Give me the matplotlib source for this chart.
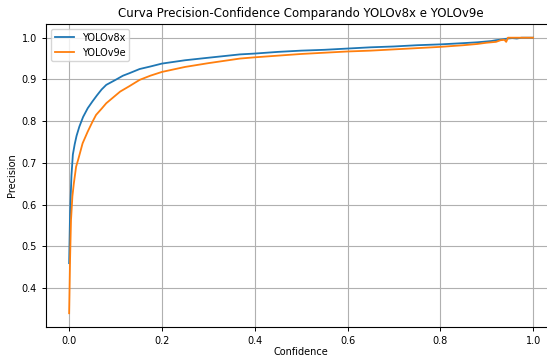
import matplotlib
matplotlib.use("Agg")
import matplotlib.pyplot as plt

v8_conf = [0.0, 0.002, 0.005, 0.008, 0.012, 0.016, 0.022, 0.03, 0.04, 0.05, 0.06, 0.07, 0.08, 0.1, 0.116, 0.13, 0.152, 0.175, 0.2, 0.25, 0.3, 0.368, 0.4, 0.45, 0.5, 0.55, 0.6, 0.65, 0.7, 0.75, 0.8, 0.85, 0.88, 0.9, 0.91, 0.92, 0.935, 0.945, 0.955, 0.965, 0.975, 1.0]
v8_prec = [0.46, 0.58, 0.67, 0.72, 0.745, 0.765, 0.787, 0.81, 0.831, 0.847, 0.862, 0.876, 0.887, 0.899, 0.909, 0.915, 0.925, 0.931, 0.938, 0.946, 0.952, 0.960, 0.962, 0.966, 0.969, 0.971, 0.974, 0.977, 0.979, 0.982, 0.984, 0.987, 0.989, 0.991, 0.992, 0.994, 0.996, 0.998, 0.999, 0.998, 1.0, 1.0]
v9_conf = [0.0, 0.002, 0.004, 0.007, 0.01, 0.015, 0.02, 0.029, 0.04, 0.05, 0.058, 0.07, 0.08, 0.095, 0.11, 0.13, 0.152, 0.175, 0.2, 0.25, 0.3, 0.368, 0.4, 0.45, 0.5, 0.55, 0.6, 0.65, 0.7, 0.75, 0.8, 0.85, 0.88, 0.9, 0.92, 0.93, 0.938, 0.942, 0.946, 0.95, 0.96, 1.0]
v9_prec = [0.34, 0.47, 0.563, 0.62, 0.65, 0.691, 0.71, 0.747, 0.775, 0.798, 0.815, 0.83, 0.843, 0.857, 0.871, 0.884, 0.899, 0.909, 0.918, 0.93, 0.939, 0.950, 0.953, 0.957, 0.961, 0.964, 0.967, 0.969, 0.972, 0.975, 0.978, 0.982, 0.985, 0.988, 0.99, 0.994, 0.995, 0.99, 1.0, 1.0, 1.0, 1.0]

fig, ax = plt.subplots(figsize=(5.47, 3.57), dpi=100)
ax.plot(v8_conf, v8_prec, color="#1f77b4", label="YOLOv8x", linewidth=1.3)
ax.plot(v9_conf, v9_prec, color="#ff7f0e", label="YOLOv9e", linewidth=1.3)
ax.set_title("Curva Precision-Confidence Comparando YOLOv8x e YOLOv9e", fontsize=8.5, pad=5)
ax.set_xlabel("Confidence", fontsize=7, labelpad=0.5)
ax.set_ylabel("Precision", fontsize=7, labelpad=3)
ax.tick_params(labelsize=7, width=0.7, length=3)
ax.grid(True)
ax.legend(loc="upper left", fontsize=7)
fig.subplots_adjust(left=0.084, right=1.017, top=0.933, bottom=0.084)
fig.savefig("out.png")
